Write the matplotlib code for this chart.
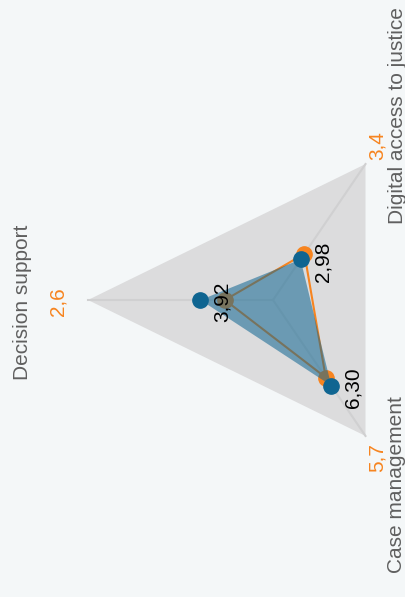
import numpy as np
import matplotlib
matplotlib.use("Agg")
import matplotlib.pyplot as plt

# Radar data (scale 0-10), chart is drawn rotated by 90 degrees
categories = ["Digital access to justice", "Decision support", "Case management"]
orange_vals = [3.4, 2.6, 5.7]
blue_vals = [2.98, 3.92, 6.30]
orange_labels = ["3,4", "2,6", "5,7"]
blue_labels = ["2,98", "3,92", "6,30"]
scale_max = 10

BG = "#f4f7f8"
GRID_FILL = "#dcdcdd"
GRID_LINE = "#d0d0d1"
ORANGE = "#f7841f"
BLUE = "#0f6591"
TEXT_GREY = "#5f5f5f"

plt.rcParams["font.family"] = ["Liberation Sans", "DejaVu Sans"]

angles = np.deg2rad([60, 180, 300])
closed_angles = np.append(angles, angles[0])

fig = plt.figure(figsize=(4.06, 5.97), dpi=100, facecolor=BG)
# polar area stretched into an ellipse, like the reference
ax = fig.add_axes([88 / 406, 140 / 597, 370 / 406, 314 / 597], projection="polar")
ax.set_aspect("auto")
ax.set_ylim(0, scale_max)
ax.axis("off")

# background triangle and spokes
ax.fill(closed_angles, [scale_max] * 4, color=GRID_FILL, lw=0, zorder=1, clip_on=False)
for a in angles:
    ax.plot([a, a], [0, scale_max], color=GRID_LINE, lw=1.5, zorder=2, clip_on=False)

# orange series (line + markers)
ax.plot(closed_angles, np.append(orange_vals, orange_vals[0]), color=ORANGE, lw=1.5, zorder=3)
ax.plot(angles, orange_vals, "o", ms=11, color=ORANGE, zorder=3)

# blue series (filled)
ax.fill(closed_angles, np.append(blue_vals, blue_vals[0]), color=BLUE, alpha=0.55, lw=0, zorder=4)
ax.plot(angles, blue_vals, "o", ms=11, color=BLUE, zorder=5)

# data labels for the blue series
for a, v, lab in zip(angles, blue_vals, blue_labels):
    ax.annotate(lab, (a, v), xytext=(22, -2), textcoords="offset pixels",
                rotation=90, ha="center", va="center", fontsize=15,
                color="black", zorder=6)

# category labels and orange values at the outer vertices
cat_offsets = [(32, 48), (-66, -2), (31, -49)]
val_offsets = [(12, 18), (-30, -2), (12, -22)]
for a, cat, lab, co, vo in zip(angles, categories, orange_labels, cat_offsets, val_offsets):
    ax.annotate(cat, (a, scale_max), xytext=co, textcoords="offset pixels",
                rotation=90, ha="center", va="center", fontsize=15,
                color=TEXT_GREY, annotation_clip=False)
    ax.annotate(lab, (a, scale_max), xytext=vo, textcoords="offset pixels",
                rotation=90, ha="center", va="center", fontsize=15,
                color=ORANGE, annotation_clip=False)

fig.savefig("out.png", dpi=100, facecolor=BG)
